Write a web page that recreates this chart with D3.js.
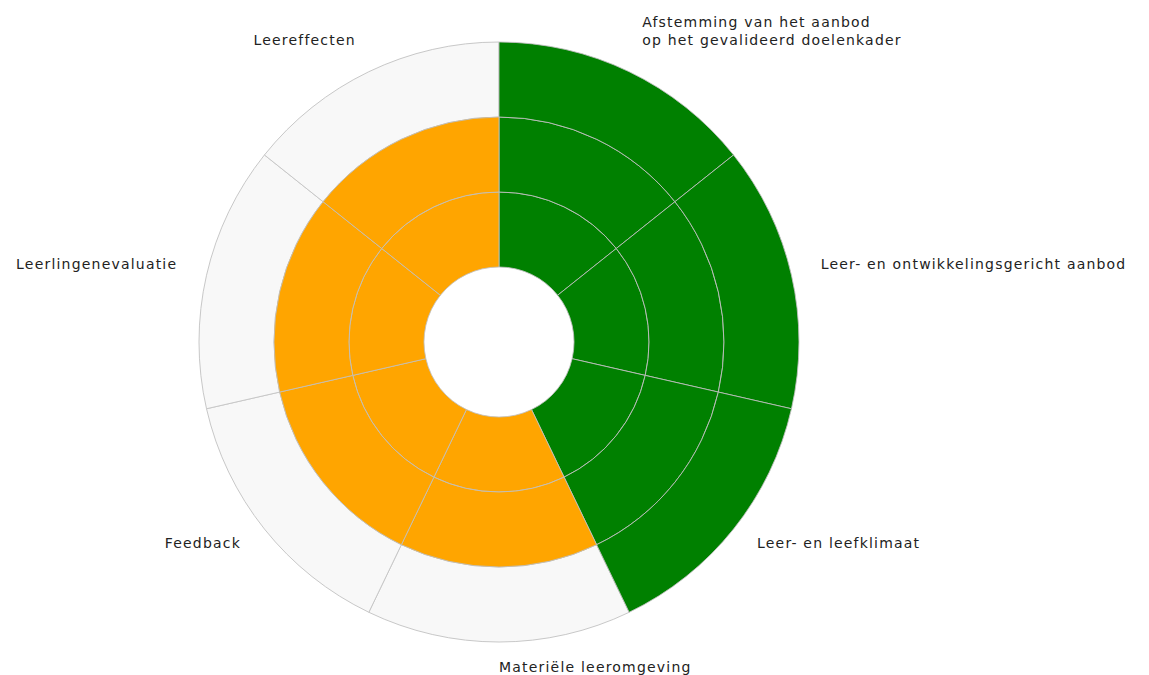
<!DOCTYPE html>
<html>
<head>
<meta charset="utf-8">
<script src="https://cdn.jsdelivr.net/npm/d3@7"></script>
<style>
  html, body { margin: 0; padding: 0; background: #fff; }
  svg { display: block; }
  text { font-family: "DejaVu Sans", sans-serif; font-size: 14px; fill: #222; letter-spacing: 1.2px; }
</style>
</head>
<body>
<svg id="chart" width="1149" height="675"></svg>
<script>
// ---- data ----
const categories = [
  ["Afstemming van het aanbod", "op het gevalideerd doelenkader"],
  ["Leer- en ontwikkelingsgericht aanbod"],
  ["Leer- en leefklimaat"],
  ["Materiële leeromgeving"],
  ["Feedback"],
  ["Leerlingenevaluatie"],
  ["Leereffecten"]
];
const scores = [3, 3, 3, 2, 2, 2, 2];
const maxScore = 3;
const levels = [1, 2, 3];
const scoreColors = { 3: "green", 2: "orange" };

// ---- layout ----
const svg = d3.select("#chart");
const cx = 499, cy = 342;
const rScale = d3.scaleLinear().domain([0, maxScore]).range([75, 300]);
const angle = d3.scaleBand().domain(d3.range(categories.length)).range([0, 2 * Math.PI]).padding(0);

const g = svg.append("g").attr("transform", `translate(${cx},${cy})`);
const arc = d3.arc();

// cells: one per level per category
const cells = [];
categories.forEach((c, i) => {
  levels.forEach(l => {
    cells.push({ i, l, filled: l <= scores[i] });
  });
});

// background (unfilled) cells: merged from score to max
g.selectAll("path.bg")
  .data(categories.map((c, i) => ({ i })).filter(d => scores[d.i] < maxScore))
  .join("path")
  .attr("class", "bg")
  .attr("d", d => arc({
    innerRadius: rScale(scores[d.i]),
    outerRadius: rScale(maxScore),
    startAngle: angle(d.i),
    endAngle: angle(d.i) + angle.bandwidth()
  }))
  .attr("fill", "#f8f8f8")
  .attr("stroke", "#c8c8c8")
  .attr("stroke-width", 1);

// filled cells
g.selectAll("path.cell")
  .data(cells.filter(d => d.filled))
  .join("path")
  .attr("class", "cell")
  .attr("d", d => arc({
    innerRadius: rScale(d.l - 1),
    outerRadius: rScale(d.l),
    startAngle: angle(d.i),
    endAngle: angle(d.i) + angle.bandwidth()
  }))
  .attr("fill", d => scoreColors[scores[d.i]])
  .attr("stroke", "#c0c0c0")
  .attr("stroke-opacity", 0.85)
  .attr("stroke-width", 1);

// labels
const labelR = 330;
const lineH = 18;
categories.forEach((lines, i) => {
  const a = angle(i) + angle.bandwidth() / 2;
  const s = Math.sin(a), c = Math.cos(a);
  const x = labelR * s, y = -labelR * c;
  const anchor = s > 0.01 ? "start" : (s < -0.01 ? "end" : "start");
  const t = g.append("text")
    .attr("x", x)
    .attr("y", y - (lines.length - 1) * lineH)
    .attr("text-anchor", anchor);
  lines.forEach((ln, k) => {
    t.append("tspan").attr("x", x).attr("dy", k === 0 ? 0 : lineH).text(ln);
  });
});
</script>
</body>
</html>
